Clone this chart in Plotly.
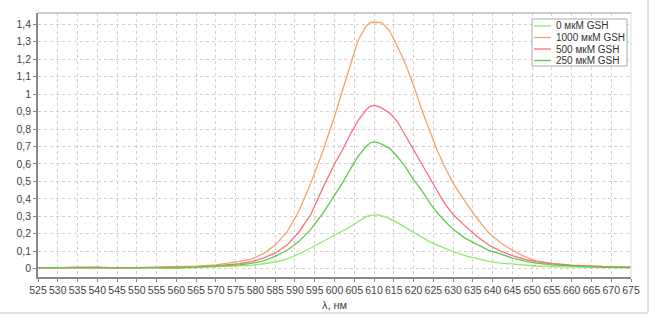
import plotly.graph_objects as go

wavelength = [525, 530, 535, 540, 545, 550, 555, 560, 565, 570, 573, 576, 579, 582, 585, 588, 591, 594, 597, 600,
              602, 604, 606, 608, 609, 610, 611, 612, 614, 616, 618, 620, 622, 624, 626, 628, 630, 633, 636, 639,
              642, 645, 648, 651, 655, 660, 665, 670, 675]

gsh_0 = [0.004, 0.006, 0.005, 0.004, 0.005, 0.003, 0.004, 0.002, 0.006, 0.008, 0.010, 0.013, 0.019, 0.028, 0.038,
         0.055, 0.084, 0.118, 0.155, 0.193, 0.220, 0.240, 0.270, 0.298, 0.305, 0.308, 0.308, 0.303, 0.285, 0.262,
         0.235, 0.210, 0.180, 0.155, 0.135, 0.115, 0.098, 0.075, 0.058, 0.042, 0.032, 0.025, 0.020, 0.015, 0.012,
         0.009, 0.007, 0.006, 0.005]

gsh_1000 = [0.005, 0.004, 0.008, 0.005, 0.004, 0.006, 0.008, 0.010, 0.014, 0.022, 0.030, 0.041, 0.055, 0.086, 0.135,
            0.210, 0.330, 0.490, 0.670, 0.870, 1.020, 1.160, 1.310, 1.390, 1.410, 1.412, 1.412, 1.410, 1.360, 1.270,
            1.170, 1.050, 0.915, 0.795, 0.675, 0.580, 0.490, 0.385, 0.290, 0.205, 0.148, 0.105, 0.070, 0.045, 0.030,
            0.020, 0.014, 0.010, 0.008]

gsh_500 = [0.004, 0.005, 0.004, 0.008, 0.004, 0.005, 0.006, 0.008, 0.010, 0.015, 0.020, 0.028, 0.040, 0.060, 0.090,
           0.135, 0.210, 0.310, 0.460, 0.600, 0.680, 0.770, 0.850, 0.910, 0.930, 0.936, 0.930, 0.920, 0.890, 0.840,
           0.760, 0.680, 0.600, 0.520, 0.445, 0.370, 0.310, 0.245, 0.185, 0.135, 0.100, 0.075, 0.055, 0.040, 0.028,
           0.018, 0.012, 0.010, 0.008]

gsh_250 = [0.006, 0.005, 0.006, 0.005, 0.004, 0.005, 0.004, 0.004, 0.008, 0.012, 0.016, 0.021, 0.030, 0.045, 0.070,
           0.105, 0.155, 0.225, 0.315, 0.420, 0.490, 0.570, 0.645, 0.700, 0.720, 0.726, 0.722, 0.712, 0.688, 0.640,
           0.580, 0.510, 0.450, 0.380, 0.320, 0.270, 0.225, 0.175, 0.140, 0.105, 0.085, 0.060, 0.045, 0.032, 0.022,
           0.015, 0.010, 0.008, 0.006]

series_names = ["0 мкМ GSH", "1000 мкМ GSH", "500 мкМ GSH", "250 мкМ GSH"]
series_values = [gsh_0, gsh_1000, gsh_500, gsh_250]
series_colors = ["#8fea6a", "#f2a468", "#ff6b7d", "#62c84a"]

W, H = 650, 317
ML, MR, MT, MB = 38, 19, 13, 40
PW, PH = W - ML - MR, H - MT - MB


def px(x):
    return (x - ML) / PW


def py(y):
    return (H - MB - y) / PH


fig = go.Figure()
for name, vals, col in zip(series_names, series_values, series_colors):
    fig.add_trace(go.Scatter(x=wavelength, y=vals, mode="lines", name=name, showlegend=False,
                             line=dict(color=col, width=1.3)))

font_family = "Liberation Sans, Arial, sans-serif"

fig.update_layout(
    width=W, height=H,
    margin=dict(l=ML, r=MR, t=MT, b=MB),
    paper_bgcolor="white", plot_bgcolor="white",
    separators=", ",
    font=dict(family=font_family, size=10.5, color="#444"),
    showlegend=False,
    xaxis=dict(range=[525, 675], dtick=5, tick0=525, showgrid=True, gridcolor="#cfcfcf",
               griddash="dot", gridwidth=1, zeroline=False, showline=True, linecolor="#888888",
               linewidth=1.5, ticks="outside", ticklen=3, tickcolor="#888888",
               title=dict(text="λ, нм", standoff=6, font=dict(size=11, color="#444")),
               automargin=False),
    yaxis=dict(range=[-0.048, 1.465], dtick=0.1, tick0=0, showgrid=True, gridcolor="#cfcfcf",
               griddash="dot", gridwidth=1, zeroline=False, showline=True, linecolor="#888888",
               linewidth=1.5, ticks="outside", ticklen=3, tickcolor="#888888", automargin=False),
)

# plot-area top and right borders, outer frame
fig.add_shape(type="line", xref="paper", yref="paper", x0=0, x1=1, y0=1, y1=1,
              line=dict(color="#cccccc", width=2))
fig.add_shape(type="line", xref="paper", yref="paper", x0=1, x1=1, y0=0, y1=1,
              line=dict(color="#dddddd", width=1))
fig.add_shape(type="line", xref="paper", yref="paper", x0=px(-2), x1=px(648), y0=py(313), y1=py(313),
              line=dict(color="#d8d8d8", width=1.5))
fig.add_shape(type="line", xref="paper", yref="paper", x0=px(648), x1=px(648), y0=py(313), y1=py(-2),
              line=dict(color="#d8d8d8", width=1.5))

# legend box (drawn manually for compact spacing)
LX0, LX1, LY0, LY1 = 532, 627, 19, 66
fig.add_shape(type="rect", xref="paper", yref="paper", x0=px(LX0), x1=px(LX1), y0=py(LY1), y1=py(LY0),
              fillcolor="white", line=dict(color="#aaaaaa", width=1), layer="above")
row_y = [26, 37.5, 49, 60.5]
for name, col, ry in zip(series_names, series_colors, row_y):
    fig.add_shape(type="line", xref="paper", yref="paper", x0=px(534), x1=px(551), y0=py(ry), y1=py(ry),
                  line=dict(color=col, width=1.3), layer="above")
    fig.add_annotation(xref="paper", yref="paper", x=px(554), y=py(ry), text=name, showarrow=False,
                       xanchor="left", yanchor="middle", font=dict(size=10, color="#333"))

fig.write_html("out.html")
